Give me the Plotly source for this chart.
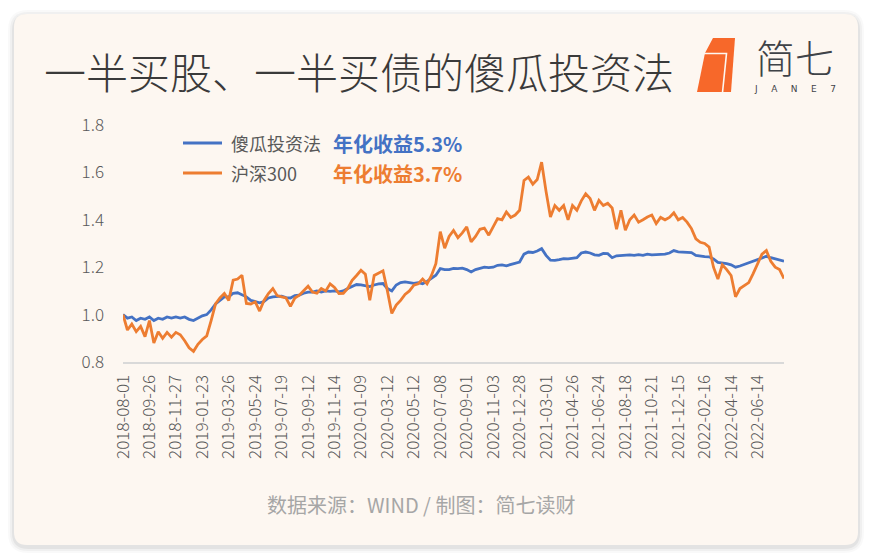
import plotly.graph_objects as go

# ---------------- data ----------------
tick_labels = [
    "2018-08-01", "2018-09-26", "2018-11-27", "2019-01-23", "2019-03-26",
    "2019-05-24", "2019-07-19", "2019-09-12", "2019-11-14", "2020-01-09",
    "2020-03-12", "2020-05-12", "2020-07-08", "2020-09-01", "2020-11-03",
    "2020-12-28", "2021-03-01", "2021-04-26", "2021-06-24", "2021-08-18",
    "2021-10-21", "2021-12-15", "2022-02-16", "2022-04-14", "2022-06-14",
]
points_per_label = 6

fund_values = [  # 傻瓜投资法
    1.00, 0.985, 0.99, 0.975, 0.985, 0.98, 0.99, 0.975, 0.985, 0.98,
    0.99, 0.985, 0.99, 0.985, 0.99, 0.98, 0.975, 0.985, 0.995, 1.00,
    1.02, 1.045, 1.06, 1.075, 1.075, 1.09, 1.092, 1.085, 1.075, 1.06,
    1.054, 1.05, 1.055, 1.07, 1.075, 1.075, 1.078, 1.072, 1.07, 1.08,
    1.082, 1.09, 1.095, 1.095, 1.10, 1.095, 1.10, 1.098, 1.10, 1.096,
    1.10, 1.11, 1.12, 1.127, 1.125, 1.12, 1.118, 1.125, 1.13, 1.131,
    1.11, 1.10, 1.125, 1.135, 1.138, 1.135, 1.132, 1.135, 1.13, 1.14,
    1.155, 1.166, 1.194, 1.19, 1.19, 1.195, 1.194, 1.196, 1.19, 1.18,
    1.19, 1.195, 1.20, 1.198, 1.20, 1.208, 1.21, 1.206, 1.212, 1.215,
    1.222, 1.255, 1.264, 1.262, 1.268, 1.278, 1.25, 1.23, 1.229, 1.232,
    1.236, 1.235, 1.238, 1.24, 1.26, 1.264, 1.26, 1.252, 1.25, 1.258,
    1.257, 1.24, 1.248, 1.25, 1.25, 1.252, 1.25, 1.253, 1.25, 1.255,
    1.252, 1.253, 1.255, 1.255, 1.26, 1.27, 1.265, 1.264, 1.262, 1.262,
    1.25, 1.246, 1.245, 1.244, 1.235, 1.22, 1.218, 1.215, 1.21, 1.20,
    1.205, 1.212, 1.218, 1.225, 1.235, 1.242, 1.246, 1.24, 1.236, 1.232,
    1.225,
]

hs300_values = [  # 沪深300
    1.00, 0.935, 0.96, 0.928, 0.95, 0.907, 0.975, 0.88, 0.928, 0.90,
    0.925, 0.905, 0.925, 0.915, 0.89, 0.86, 0.845, 0.875, 0.895, 0.91,
    0.975, 1.045, 1.07, 1.089, 1.06, 1.145, 1.15, 1.166, 1.047, 1.045,
    1.054, 1.015, 1.06, 1.089, 1.11, 1.08, 1.075, 1.07, 1.035, 1.07,
    1.082, 1.10, 1.12, 1.095, 1.09, 1.11, 1.10, 1.13, 1.115, 1.089,
    1.09, 1.11, 1.145, 1.165, 1.187, 1.17, 1.06, 1.165, 1.175, 1.185,
    1.10, 1.005, 1.04, 1.06, 1.085, 1.10, 1.124, 1.13, 1.15, 1.13,
    1.165, 1.215, 1.35, 1.28, 1.33, 1.355, 1.325, 1.345, 1.37, 1.307,
    1.33, 1.36, 1.365, 1.335, 1.37, 1.405, 1.40, 1.433, 1.41, 1.42,
    1.44, 1.566, 1.58, 1.55, 1.57, 1.643, 1.52, 1.412, 1.46, 1.44,
    1.46, 1.40, 1.46, 1.44, 1.48, 1.51, 1.49, 1.44, 1.482, 1.46,
    1.47, 1.45, 1.36, 1.44, 1.356, 1.40, 1.42, 1.39, 1.40, 1.412,
    1.42, 1.384, 1.41, 1.40, 1.41, 1.43, 1.40, 1.41, 1.39, 1.363,
    1.32, 1.305, 1.30, 1.285, 1.20, 1.15, 1.21, 1.19, 1.165, 1.075,
    1.11, 1.124, 1.135, 1.173, 1.215, 1.255, 1.27, 1.225, 1.20, 1.19,
    1.152,
]

y_ticks = [0.8, 1.0, 1.2, 1.4, 1.6, 1.8]
series_names = ["傻瓜投资法", "沪深300"]
returns_text = ["年化收益5.3%", "年化收益3.7%"]

# ---------------- style ----------------
BLUE = "#4472C4"
ORANGE = "#ED7D31"
CARD = "#FDF7F1"
FONT = "Noto Sans CJK SC, Noto Sans, sans-serif"

W, H = 873, 559
L, R, T, B = 123, 89, 125, 197
PW, PH = W - L - R, H - T - B


def X(px):
    return (px - L) / PW


def Y(py):
    return (H - B - py) / PH


def rounded(x0, y0, x1, y1, r):
    return (
        f"M {X(x0 + r)} {Y(y0)} L {X(x1 - r)} {Y(y0)} "
        f"Q {X(x1)} {Y(y0)} {X(x1)} {Y(y0 + r)} "
        f"L {X(x1)} {Y(y1 - r)} Q {X(x1)} {Y(y1)} {X(x1 - r)} {Y(y1)} "
        f"L {X(x0 + r)} {Y(y1)} Q {X(x0)} {Y(y1)} {X(x0)} {Y(y1 - r)} "
        f"L {X(x0)} {Y(y0 + r)} Q {X(x0)} {Y(y0)} {X(x0 + r)} {Y(y0)} Z"
    )


n = len(fund_values)
xs = list(range(n))
tickvals = [k * points_per_label for k in range(len(tick_labels))]

fig = go.Figure()
fig.add_trace(go.Scatter(x=xs, y=fund_values, mode="lines", name=series_names[0],
                         line=dict(color=BLUE, width=2.8)))
fig.add_trace(go.Scatter(x=xs, y=hs300_values, mode="lines", name=series_names[1],
                         line=dict(color=ORANGE, width=2.8)))

shapes = []
# card shadow + card
for grow, op in [(6, 0.025), (4, 0.035), (2, 0.05)]:
    shapes.append(dict(type="path", xref="paper", yref="paper", layer="below",
                       path=rounded(14 - grow, 14 - grow + 2, 858 + grow, 545 + grow + 2, 14 + grow),
                       fillcolor=f"rgba(0,0,0,{op})", line=dict(width=0)))
shapes.append(dict(type="path", xref="paper", yref="paper", layer="below",
                   path=rounded(14, 14, 858, 545, 13),
                   fillcolor=CARD, line=dict(width=0)))
# logo mark
logo_pts = [(697, 92), (705, 53), (713, 38), (735, 38), (731, 92)]
p = "M " + " L ".join(f"{X(a)} {Y(b)}" for a, b in logo_pts) + " Z"
shapes.append(dict(type="path", xref="paper", yref="paper", path=p,
                   fillcolor="#F7682A", line=dict(width=0)))
gap = [(699, 53.5), (726.5, 53.5), (722.5, 92.5)]
shapes.append(dict(type="path", xref="paper", yref="paper",
                   path="M " + " L ".join(f"{X(a)} {Y(b)}" for a, b in gap),
                   line=dict(color=CARD, width=1.6)))
# manual legend lines
for py, col in [(143, BLUE), (173, ORANGE)]:
    shapes.append(dict(type="line", xref="paper", yref="paper",
                       x0=X(183), x1=X(222), y0=Y(py), y1=Y(py),
                       line=dict(color=col, width=3)))

ann = []
ann.append(dict(text="一半买股、一半买债的傻瓜投资法", x=X(359), y=Y(71), xref="paper", yref="paper",
                showarrow=False, xanchor="center", yanchor="middle",
                font=dict(family=FONT, size=42, color="#3A3A3A", weight=300)))
ann.append(dict(text="简七", x=X(795), y=Y(56), xref="paper", yref="paper",
                showarrow=False, xanchor="center", yanchor="middle", borderpad=0,
                font=dict(family=FONT, size=39, color="#3F4348", weight=300)))
ann.append(dict(text="J\u2003\u2002A\u2003\u2002N\u2003\u2002E\u2003\u20027", x=X(795), y=Y(89),
                xref="paper", yref="paper", showarrow=False, xanchor="center", yanchor="middle",
                borderpad=0,
                font=dict(family="DejaVu Sans, sans-serif", size=9, color="#3F4348")))
for py, name, ret, col in [(143, series_names[0], returns_text[0], BLUE),
                           (173, series_names[1], returns_text[1], ORANGE)]:
    ann.append(dict(text=name, x=X(229), y=Y(py), xref="paper", yref="paper",
                    showarrow=False, xanchor="left", yanchor="middle",
                    font=dict(family=FONT, size=18, color="#595959")))
    ann.append(dict(text=f"<b>{ret}</b>", x=X(331), y=Y(py), xref="paper", yref="paper",
                    showarrow=False, xanchor="left", yanchor="middle",
                    font=dict(family=FONT, size=20, color=col)))
ann.append(dict(text="数据来源：WIND / 制图：简七读财", x=X(421), y=Y(504), xref="paper", yref="paper",
                showarrow=False, xanchor="center", yanchor="middle",
                font=dict(family=FONT, size=20, color="#A6A6A6")))

fig.update_layout(
    width=W, height=H,
    margin=dict(l=L, r=R, t=T, b=B, pad=0),
    paper_bgcolor="#FFFFFF",
    plot_bgcolor="rgba(0,0,0,0)",
    showlegend=False,
    shapes=shapes,
    annotations=ann,
    xaxis=dict(range=[0, n - 1], tickmode="array", tickvals=tickvals, ticktext=tick_labels,
               tickangle=-90, showgrid=False, zeroline=False,
               showline=True, linecolor="#D9D9D9", linewidth=2,
               ticks="", ticklabelstandoff=4,
               tickfont=dict(family=FONT, size=17, color="#595959", weight=300)),
    yaxis=dict(range=[0.8, 1.8], tickmode="array", tickvals=y_ticks,
               ticktext=[f"{v:.1f}" for v in y_ticks],
               showgrid=False, zeroline=False, showline=False, ticks="",
               ticklabelstandoff=18,
               tickfont=dict(family=FONT, size=17, color="#595959", weight=300)),
)

fig.write_html("out.html")
